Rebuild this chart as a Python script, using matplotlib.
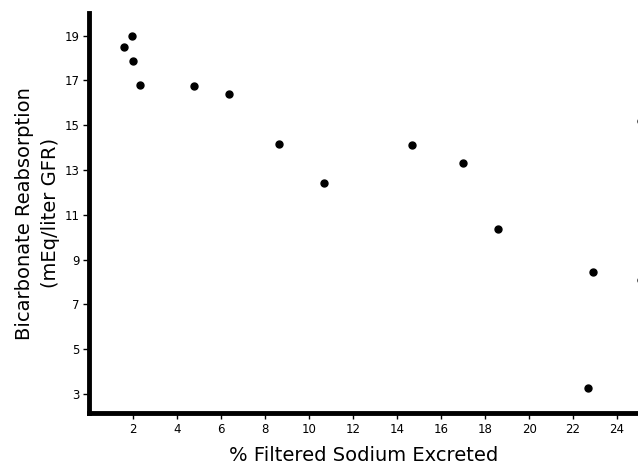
import numpy as np
import matplotlib
matplotlib.use('Agg')
from matplotlib import pyplot as plt

# data
sodium_excreted = [1.6, 1.97, 2.0, 2.3, 4.77, 6.36, 8.64, 10.68, 14.67, 17.0, 18.6, 22.9, 22.7, 25.1, 25.1]
bicarb_reabs = [18.5, 19.0, 17.86, 16.8, 16.76, 16.37, 14.14, 12.42, 14.13, 13.3, 10.36, 8.43, 3.28, 8.1, 15.2]
xticks = [2, 4, 6, 8, 10, 12, 14, 16, 18, 20, 22, 24]
yticks = [3, 5, 7, 9, 11, 13, 15, 17, 19]

plt.rcParams['font.family'] = ['DejaVu Sans']

fig = plt.figure(figsize=(6.38, 4.69), dpi=100)
ax = fig.add_axes([0.1395, 0.119, 0.8605, 0.853])

ax.plot(sodium_excreted, bicarb_reabs, 'o', color='black', markersize=5)

ax.set_xlim(0, 24.95)
ax.set_ylim(2.15, 20)
ax.set_xticks(xticks)
ax.set_yticks(yticks)
ax.tick_params(axis='both', direction='out', length=4, width=1, labelsize=8.5, pad=3)

for s in ['top', 'right']:
    ax.spines[s].set_visible(False)
for s in ['left', 'bottom']:
    ax.spines[s].set_linewidth(3.5)

ax.set_xlabel('% Filtered Sodium Excreted', fontsize=14, labelpad=7)
ax.set_ylabel('Bicarbonate Reabsorption\n(mEq/liter GFR)', fontsize=14, linespacing=1.5)
ax.yaxis.set_label_coords(-0.052, 0.5)

fig.savefig('out.png', dpi=100)
